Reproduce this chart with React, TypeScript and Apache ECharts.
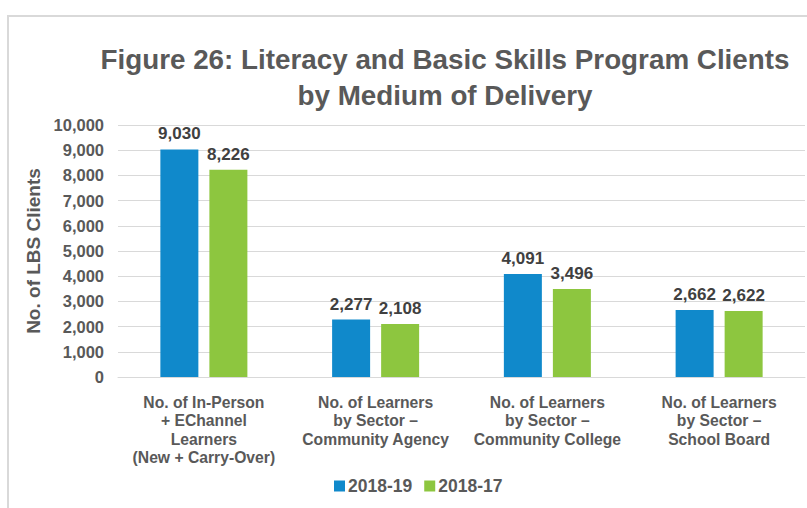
import React, { useEffect, useRef } from "react";
import * as echarts from "echarts";

const categories = [
  "No. of In-Person\n+ EChannel\nLearners\n(New + Carry-Over)",
  "No. of Learners\nby Sector –\nCommunity Agency",
  "No. of Learners\nby Sector –\nCommunity College",
  "No. of Learners\nby Sector –\nSchool Board",
];
const seriesNames = ["2018-19", "2018-17"];
const values201819 = [9030, 2277, 4091, 2662];
const values201817 = [8226, 2108, 3496, 2622];
const yTicks = { min: 0, max: 10000, interval: 1000 };

const FONT = "'Liberation Sans', Arial, Helvetica, sans-serif";
const TEXT = "#595959";
const fmt = (v: number) => v.toLocaleString("en-US");

export default function App() {
  const ref = useRef<HTMLDivElement>(null);
  useEffect(() => {
    if (!ref.current) return;
    const chart = echarts.init(ref.current, undefined, { renderer: "svg" });
    chart.setOption({
      animation: false,
      backgroundColor: "#ffffff",
      textStyle: { fontFamily: FONT },
      title: {
        text: "Figure 26: Literacy and Basic Skills Program Clients\nby Medium of Delivery",
        left: 440,
        textAlign: "center",
        top: 36,
        textStyle: {
          fontFamily: FONT,
          fontSize: 27.8,
          fontWeight: "bold",
          color: TEXT,
          lineHeight: 36,
        },
      },
      graphic: [
        {
          type: "rect",
          shape: { x: 8, y: 16, width: 830, height: 540 },
          style: { fill: "none", stroke: "#d9d9d9", lineWidth: 2 },
          silent: true,
        },
      ],
      legend: {
        data: seriesNames,
        left: 329,
        top: 472,
        icon: "rect",
        itemWidth: 11,
        itemHeight: 11,
        itemGap: 12,
        textStyle: {
          fontFamily: FONT,
          fontSize: 17.5,
          fontWeight: "bold",
          color: TEXT,
          padding: [0, 0, 0, -2],
        },
      },
      grid: { left: 118, right: 2, top: 125, bottom: 131, containLabel: false },
      xAxis: {
        type: "category",
        data: categories,
        axisLine: { show: true, lineStyle: { color: "#d9d9d9", width: 1 } },
        axisTick: { show: false },
        axisLabel: {
          interval: 0,
          margin: 16,
          fontFamily: FONT,
          fontSize: 15.7,
          fontWeight: "bold",
          color: TEXT,
          lineHeight: 18.5,
        },
      },
      yAxis: {
        type: "value",
        min: yTicks.min,
        max: yTicks.max,
        interval: yTicks.interval,
        name: "No. of LBS Clients",
        nameLocation: "middle",
        nameGap: 75,
        nameTextStyle: {
          fontFamily: FONT,
          fontSize: 19,
          fontWeight: "bold",
          color: TEXT,
        },
        axisLine: { show: false },
        axisTick: { show: false },
        splitLine: { lineStyle: { color: "#d9d9d9", width: 1 } },
        axisLabel: {
          margin: 14,
          fontFamily: FONT,
          fontSize: 16.5,
          fontWeight: "bold",
          color: TEXT,
          formatter: (v: number) => fmt(v),
        },
      },
      series: [
        {
          name: seriesNames[0],
          type: "bar",
          data: values201819,
          barWidth: 38,
          barGap: "29%",
          itemStyle: { color: "#1089cb" },
          label: {
            show: true,
            position: "top",
            distance: 7,
            fontFamily: FONT,
            fontSize: 17,
            fontWeight: "bold",
            color: "#404040",
            formatter: (p: any) => fmt(p.value),
          },
        },
        {
          name: seriesNames[1],
          type: "bar",
          data: values201817,
          barWidth: 38,
          barGap: "29%",
          itemStyle: { color: "#8dc63f" },
          label: {
            show: true,
            position: "top",
            distance: 7,
            fontFamily: FONT,
            fontSize: 17,
            fontWeight: "bold",
            color: "#404040",
            formatter: (p: any) => fmt(p.value),
          },
        },
      ],
    });
    return () => chart.dispose();
  }, []);
  return (
    <div
      ref={ref}
      style={{ position: "fixed", left: 0, top: 0, width: 807, height: 508 }}
    />
  );
}
